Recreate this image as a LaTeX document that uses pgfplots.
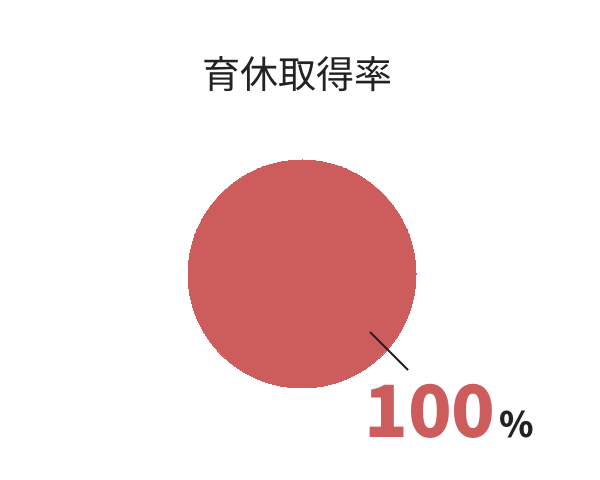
\documentclass[border=0pt]{standalone}
\usepackage{pgfplots}
\pgfplotsset{compat=1.18}
\usepackage{fontspec}
\newfontfamily\cjk{Noto Sans CJK JP}
\definecolor{piered}{HTML}{CD5C5C}
\definecolor{textdark}{HTML}{222222}
\begin{document}
\begin{tikzpicture}
\begin{axis}[
    width=600bp, height=480bp,
    scale only axis,
    xmin=0, xmax=600, ymin=0, ymax=480,
    hide axis,
    clip=false,
    set layers,
]
% keep the whole canvas
\path (rel axis cs:0,0) rectangle (rel axis cs:1,1);
% 育休取得率 = 100 %: a full disc
\addplot[only marks, mark=*, mark size=114bp,
    mark options={fill=piered, draw=piered, line width=0pt}] coordinates {(302,206)};
% leader line, above the disc
\addplot[on layer=axis foreground, textdark, line width=1.8bp]
    coordinates {(370,148) (408,110)};
\node[anchor=base, inner sep=0, textdark] at (axis cs:297,391)
    {\cjk\fontsize{38bp}{38bp}\selectfont 育休取得率};
\node[anchor=base west, inner sep=0, piered] at (axis cs:364,42)
    {\cjk\bfseries\fontsize{72bp}{72bp}\selectfont 100};
\node[anchor=base west, inner sep=0, textdark] at (axis cs:499,42)
    {\cjk\bfseries\fontsize{35bp}{35bp}\selectfont \%};
\end{axis}
\end{tikzpicture}
\end{document}
